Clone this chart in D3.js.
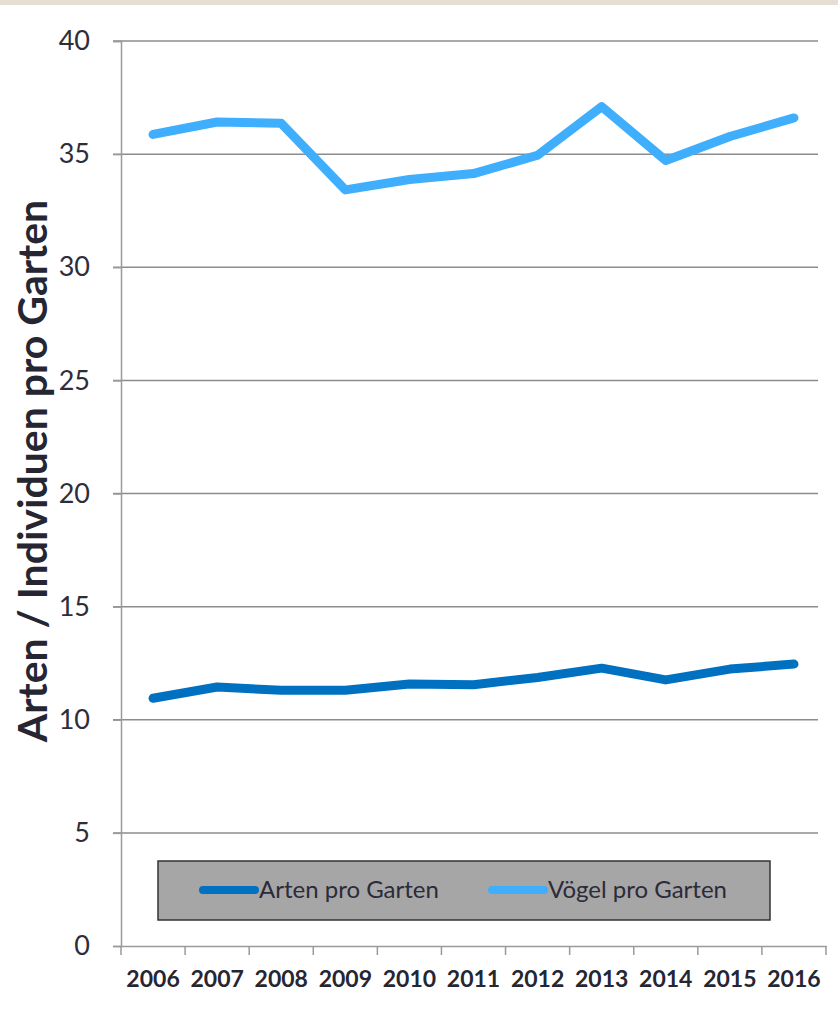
<!DOCTYPE html>
<html>
<head>
<meta charset="utf-8">
<script src="https://cdn.jsdelivr.net/npm/d3@7"></script>
<style>
  body { margin: 0; background: #fff; }
  svg { display: block; }
  svg text { font-family: Lato, "Noto Sans", sans-serif; }
</style>
</head>
<body>
<div id="chart"></div>
<script>
// data
var years = ["2006", "2007", "2008", "2009", "2010", "2011", "2012", "2013", "2014", "2015", "2016"];
var artenProGarten = [10.95, 11.45, 11.3, 11.3, 11.58, 11.55, 11.87, 12.28, 11.76, 12.24, 12.46];
var voegelProGarten = [35.87, 36.42, 36.36, 33.42, 33.88, 34.14, 34.95, 37.1, 34.72, 35.78, 36.6];
var yTicks = [0, 5, 10, 15, 20, 25, 30, 35, 40];
var seriesNames = ["Arten pro Garten", "Vögel pro Garten"];
var seriesColors = ["#0070c0", "#3eaefd"];

var width = 838, height = 1013;
var margin = {top: 41, right: 12, bottom: 67, left: 121};

var svg = d3.select("#chart").append("svg")
  .attr("width", width)
  .attr("height", height);

// thin beige band on top
svg.append("rect")
  .attr("x", 0).attr("y", 0)
  .attr("width", width).attr("height", 5)
  .attr("fill", "#e4dfd1");

var x = d3.scaleBand()
  .domain(years)
  .range([margin.left, width - margin.right])
  .padding(0);

var y = d3.scaleLinear()
  .domain([0, 40])
  .range([height - margin.bottom, margin.top]);

// gridlines
svg.append("g")
  .selectAll("line")
  .data(yTicks.filter(function (d) { return d > 0; }))
  .enter().append("line")
  .attr("x1", margin.left - 8)
  .attr("x2", width - 20)
  .attr("y1", function (d) { return y(d); })
  .attr("y2", function (d) { return y(d); })
  .attr("stroke", "#8c8c8c")
  .attr("stroke-width", 1.5);

// y axis
var yAxis = svg.append("g")
  .attr("transform", "translate(" + margin.left + ",0)")
  .call(d3.axisLeft(y).tickValues(yTicks).tickSize(8).tickPadding(23));
yAxis.select(".domain").attr("stroke", "#9a9a9a").attr("stroke-width", 1.5);
yAxis.selectAll(".tick line").attr("stroke", "#9a9a9a").attr("stroke-width", 1.5);
yAxis.selectAll("text")
  .attr("fill", "#2e2e3a")
  .style("font-family", "Lato, sans-serif")
  .style("font-size", "27px");

// x axis
var xAxis = svg.append("g")
  .attr("transform", "translate(0," + y(0) + ")")
  .call(d3.axisBottom(x).tickSize(0).tickPadding(25));
xAxis.select(".domain").attr("stroke", "#9a9a9a").attr("stroke-width", 1.5);
xAxis.selectAll("text")
  .attr("fill", "#262633")
  .style("font-family", "Lato, sans-serif")
  .style("font-size", "23px")
  .style("font-weight", "bold");

// x tick marks on band boundaries
var boundaries = years.map(function (d) { return x(d); }).concat([x(years[years.length - 1]) + x.bandwidth()]);
svg.append("g")
  .selectAll("line")
  .data(boundaries)
  .enter().append("line")
  .attr("x1", function (d) { return d; })
  .attr("x2", function (d) { return d; })
  .attr("y1", y(0))
  .attr("y2", y(0) + 9)
  .attr("stroke", "#9a9a9a")
  .attr("stroke-width", 1.5);

// y axis title
svg.append("text")
  .attr("transform", "translate(47,471) rotate(-90)")
  .attr("text-anchor", "middle")
  .attr("fill", "#262633")
  .style("font-size", "41px")
  .style("font-weight", "bold")
  .text("Arten / Individuen pro Garten");

// lines
var line = d3.line()
  .x(function (d, i) { return x(years[i]) + x.bandwidth() / 2; })
  .y(function (d) { return y(d); });

[artenProGarten, voegelProGarten].forEach(function (values, i) {
  svg.append("path")
    .datum(values)
    .attr("d", line)
    .attr("fill", "none")
    .attr("stroke", seriesColors[i])
    .attr("stroke-width", 9)
    .attr("stroke-linejoin", "round")
    .attr("stroke-linecap", "round");
});

// legend
var legend = svg.append("g");
legend.append("rect")
  .attr("x", 158).attr("y", 861)
  .attr("width", 612).attr("height", 59)
  .attr("fill", "#a6a6a6")
  .attr("stroke", "#333")
  .attr("stroke-width", 1.5);

var legendX = [203, 492];
seriesNames.forEach(function (name, i) {
  legend.append("line")
    .attr("x1", legendX[i]).attr("x2", legendX[i] + 52)
    .attr("y1", 890).attr("y2", 890)
    .attr("stroke", seriesColors[i])
    .attr("stroke-width", 8)
    .attr("stroke-linecap", "round");
  legend.append("text")
    .attr("x", legendX[i] + 56)
    .attr("y", 898)
    .attr("fill", "#2b2b3a")
    .style("font-size", "24px")
    .text(name);
});
</script>
</body>
</html>
